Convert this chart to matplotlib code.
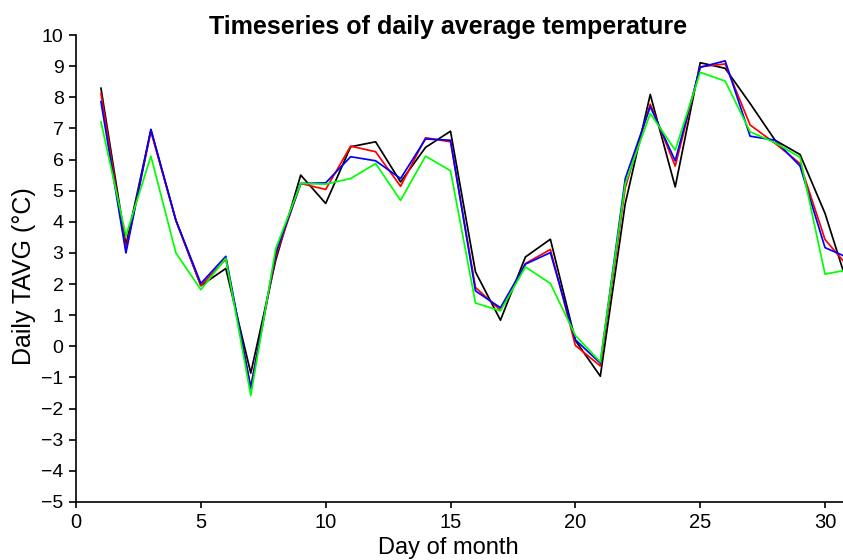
import numpy as np
import matplotlib
matplotlib.use("Agg")
import matplotlib.pyplot as plt

plt.rcParams['font.family'] = ['Liberation Sans', 'DejaVu Sans']

days = list(range(1, 32))

tavg_black = [8.29, 3.25, 6.95, 4.05, 1.95, 2.50, -0.86, 2.77, 5.50, 4.59,
              6.41, 6.57, 5.28, 6.39, 6.91, 2.39, 0.84, 2.87, 3.44, 0.19,
              -0.96, 4.59, 8.09, 5.12, 9.11, 8.93, 7.80, 6.62, 6.16, 4.27, 1.74]
tavg_red = [8.12, 3.10, 6.90, 4.05, 1.95, 2.80, -1.30, 2.90, 5.23, 5.04,
            6.43, 6.25, 5.14, 6.70, 6.57, 1.89, 1.16, 2.66, 3.11, 0.03,
            -0.63, 5.10, 7.78, 5.79, 8.98, 9.07, 7.11, 6.52, 5.87, 3.43, 2.49]
tavg_blue = [7.86, 3.00, 6.97, 4.05, 2.02, 2.89, -1.35, 3.00, 5.23, 5.25,
             6.09, 5.96, 5.39, 6.66, 6.62, 1.78, 1.24, 2.64, 3.01, 0.21,
             -0.54, 5.39, 7.70, 5.96, 8.96, 9.17, 6.75, 6.62, 5.79, 3.17, 2.82]
tavg_green = [7.21, 3.55, 6.11, 3.00, 1.82, 2.83, -1.58, 3.14, 5.23, 5.21,
              5.39, 5.87, 4.69, 6.11, 5.64, 1.39, 1.14, 2.55, 2.02, 0.35,
              -0.50, 5.23, 7.48, 6.30, 8.80, 8.52, 6.89, 6.54, 6.07, 2.32, 2.47]

xticks = [0, 5, 10, 15, 20, 25, 30]
yticks = list(range(-5, 11))

W, H = 843, 560
fig = plt.figure(figsize=(W / 100, H / 100), dpi=100)
left, right, bottom, top = 76, 843, 502, 35
ax = fig.add_axes([left / W, 1 - bottom / H, (right - left) / W, (bottom - top) / H])

lw = 1.25
ax.plot(days, tavg_black, color='black', lw=lw)
ax.plot(days, tavg_red, color='#ff0000', lw=lw)
ax.plot(days, tavg_blue, color='#0000ff', lw=lw)
ax.plot(days, tavg_green, color='#00ff00', lw=lw)

ax.set_xlim(0, 30.72)
ax.set_ylim(-5, 10)
ax.set_xticks(xticks)
ax.set_yticks(yticks)
ax.set_yticklabels([f"\u2212{abs(v)}" if v < 0 else str(v) for v in yticks])

for s in ['top', 'right']:
    ax.spines[s].set_visible(False)
for s in ['left', 'bottom']:
    ax.spines[s].set_linewidth(1.2)
    ax.spines[s].set_color('black')

ax.tick_params(axis='y', direction='out', length=5, width=1.2, pad=4, labelsize=14)
ax.tick_params(axis='x', direction='out', length=4, width=1.2, pad=4, labelsize=14.5)

fig.text(448.5 / W, 1 - 34 / H, "Timeseries of daily average temperature",
         ha='center', va='baseline', fontsize=18, fontweight='bold')
fig.text(448 / W, 1 - 554 / H, "Day of month", ha='center', va='baseline', fontsize=17)
fig.text(24 / W, 1 - 276 / H, "Daily TAVG (\u00b0C)", ha='center', va='center',
         rotation=90, fontsize=18)

fig.savefig("out.png", dpi=100)
